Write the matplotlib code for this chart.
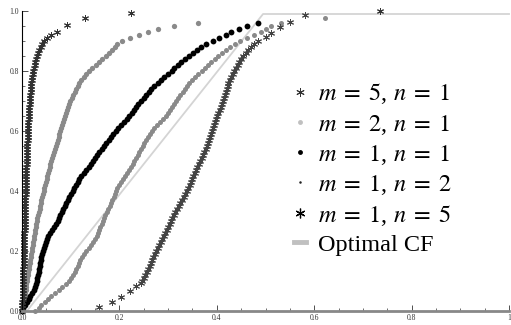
import matplotlib
matplotlib.use("Agg")
import matplotlib.pyplot as plt
from matplotlib.lines import Line2D

plt.rcParams['font.family'] = ['Liberation Serif', 'DejaVu Serif']
plt.rcParams['mathtext.fontset'] = 'stix'

# common CDF levels (y values) for the dense part of each curve
levels = [0.00, 0.01, 0.02, 0.03, 0.04, 0.05, 0.06, 0.07, 0.08, 0.09,
          0.10, 0.11, 0.12, 0.13, 0.14, 0.15, 0.16, 0.17, 0.18, 0.19,
          0.20, 0.21, 0.22, 0.23, 0.24, 0.25, 0.26, 0.27, 0.28, 0.29,
          0.30, 0.31, 0.32, 0.33, 0.34, 0.35, 0.36, 0.37, 0.38, 0.39,
          0.40, 0.41, 0.42, 0.43, 0.44, 0.45, 0.46, 0.47, 0.48, 0.49,
          0.50, 0.51, 0.52, 0.53, 0.54, 0.55, 0.56, 0.57, 0.58, 0.59,
          0.60, 0.61, 0.62, 0.63, 0.64, 0.65, 0.66, 0.67, 0.68, 0.69,
          0.70, 0.71, 0.72, 0.73, 0.74, 0.75, 0.76, 0.77, 0.78, 0.79,
          0.80, 0.81, 0.82, 0.83, 0.84, 0.85, 0.86, 0.87, 0.88, 0.89]

# m = 5, n = 1 (asterisks hugging the y axis)
a_x = [0.001, 0.001, 0.001, 0.001, 0.002, 0.002, 0.002, 0.002, 0.002, 0.003,
       0.003, 0.003, 0.003, 0.003, 0.003, 0.004, 0.004, 0.004, 0.004, 0.004,
       0.004, 0.005, 0.005, 0.005, 0.005, 0.005, 0.005, 0.006, 0.006, 0.006,
       0.006, 0.006, 0.006, 0.007, 0.007, 0.007, 0.007, 0.007, 0.007, 0.008,
       0.008, 0.008, 0.008, 0.008, 0.009, 0.009, 0.009, 0.009, 0.009, 0.010,
       0.010, 0.010, 0.010, 0.011, 0.011, 0.011, 0.011, 0.012, 0.012, 0.012,
       0.012, 0.013, 0.013, 0.013, 0.014, 0.014, 0.014, 0.015, 0.015, 0.016,
       0.016, 0.017, 0.017, 0.018, 0.018, 0.019, 0.019, 0.020, 0.021, 0.022,
       0.023, 0.024, 0.026, 0.027, 0.029, 0.031, 0.033, 0.035, 0.038, 0.042]
a_tail_x = [0.046, 0.052, 0.060, 0.071, 0.092, 0.130, 0.224, 0.735]
a_tail_y = [0.90, 0.91, 0.92, 0.93, 0.953, 0.977, 0.993, 1.0]

# m = 2, n = 1 (gray dots)
b_x = [0.002, 0.003, 0.004, 0.004, 0.005, 0.006, 0.007, 0.008, 0.008, 0.009,
       0.010, 0.011, 0.012, 0.013, 0.014, 0.015, 0.016, 0.017, 0.018, 0.019,
       0.020, 0.021, 0.022, 0.023, 0.024, 0.025, 0.026, 0.027, 0.028, 0.029,
       0.030, 0.031, 0.033, 0.034, 0.036, 0.037, 0.039, 0.040, 0.042, 0.043,
       0.045, 0.046, 0.048, 0.049, 0.051, 0.052, 0.054, 0.055, 0.057, 0.058,
       0.060, 0.062, 0.064, 0.065, 0.067, 0.069, 0.071, 0.073, 0.075, 0.077,
       0.079, 0.081, 0.083, 0.085, 0.087, 0.089, 0.091, 0.093, 0.095, 0.097,
       0.099, 0.102, 0.105, 0.108, 0.111, 0.114, 0.118, 0.122, 0.127, 0.132,
       0.138, 0.144, 0.151, 0.158, 0.165, 0.172, 0.178, 0.184, 0.190, 0.196]
b_tail_x = [0.205, 0.222, 0.240, 0.258, 0.280, 0.312, 0.361]
b_tail_y = [0.90, 0.91, 0.92, 0.93, 0.94, 0.95, 0.96]

# m = 1, n = 1 (black dots)
c_x = [0.000, 0.003, 0.007, 0.010, 0.014, 0.017, 0.021, 0.024, 0.026, 0.028,
       0.030, 0.031, 0.032, 0.034, 0.035, 0.036, 0.037, 0.039, 0.040, 0.041,
       0.043, 0.045, 0.047, 0.049, 0.052, 0.054, 0.057, 0.061, 0.066, 0.070,
       0.074, 0.077, 0.079, 0.082, 0.085, 0.088, 0.091, 0.094, 0.097, 0.100,
       0.104, 0.107, 0.110, 0.114, 0.118, 0.122, 0.127, 0.132, 0.137, 0.141,
       0.146, 0.150, 0.155, 0.159, 0.164, 0.168, 0.173, 0.178, 0.183, 0.187,
       0.192, 0.198, 0.204, 0.209, 0.215, 0.220, 0.225, 0.229, 0.234, 0.239,
       0.245, 0.250, 0.255, 0.260, 0.265, 0.272, 0.279, 0.285, 0.292, 0.299,
       0.307, 0.313, 0.320, 0.327, 0.335, 0.343, 0.351, 0.359, 0.367, 0.378]
c_tail_x = [0.393, 0.405, 0.418, 0.430, 0.446, 0.462, 0.485]
c_tail_y = [0.90, 0.91, 0.92, 0.93, 0.94, 0.95, 0.96]

# m = 1, n = 2 (gray dots, crossing the optimal line)
d_x = [0.027, 0.034, 0.040, 0.047, 0.053, 0.060, 0.068, 0.075, 0.083, 0.090,
       0.096, 0.101, 0.105, 0.108, 0.111, 0.114, 0.117, 0.120, 0.123, 0.127,
       0.132, 0.137, 0.142, 0.146, 0.150, 0.153, 0.156, 0.159, 0.161, 0.164,
       0.166, 0.168, 0.171, 0.174, 0.177, 0.180, 0.183, 0.185, 0.188, 0.190,
       0.193, 0.196, 0.200, 0.204, 0.208, 0.212, 0.216, 0.220, 0.224, 0.227,
       0.231, 0.234, 0.238, 0.241, 0.245, 0.248, 0.251, 0.255, 0.258, 0.262,
       0.266, 0.272, 0.278, 0.284, 0.290, 0.295, 0.299, 0.304, 0.308, 0.312,
       0.316, 0.321, 0.325, 0.330, 0.334, 0.338, 0.343, 0.349, 0.356, 0.362,
       0.369, 0.375, 0.382, 0.389, 0.396, 0.403, 0.410, 0.418, 0.427, 0.437]
d_tail_x = [0.447, 0.462, 0.476, 0.490, 0.500, 0.512, 0.531, 0.622]
d_tail_y = [0.90, 0.91, 0.92, 0.93, 0.94, 0.95, 0.96, 0.977]

# m = 1, n = 5 (asterisks on the right; sparse start, then levels 0.10..0.89)
e_head_x = [0.159, 0.184, 0.204, 0.222, 0.235, 0.244]
e_head_y = [0.013, 0.030, 0.047, 0.067, 0.083, 0.095]
e_x = [0.247, 0.250, 0.253, 0.256, 0.259, 0.262, 0.264, 0.267, 0.270, 0.273,
       0.276, 0.279, 0.282, 0.285, 0.288, 0.291, 0.294, 0.297, 0.300, 0.303,
       0.306, 0.309, 0.312, 0.315, 0.318, 0.322, 0.325, 0.328, 0.332, 0.335,
       0.338, 0.341, 0.344, 0.347, 0.350, 0.352, 0.355, 0.358, 0.360, 0.363,
       0.366, 0.369, 0.371, 0.374, 0.377, 0.379, 0.382, 0.384, 0.387, 0.389,
       0.391, 0.393, 0.395, 0.397, 0.399, 0.401, 0.403, 0.406, 0.408, 0.410,
       0.412, 0.414, 0.416, 0.418, 0.420, 0.422, 0.424, 0.427, 0.430, 0.433,
       0.436, 0.439, 0.443, 0.446, 0.450, 0.454, 0.459, 0.464, 0.470, 0.477]
e_tail_x = [0.485, 0.500, 0.512, 0.530, 0.551, 0.582]
e_tail_y = [0.90, 0.913, 0.927, 0.945, 0.963, 0.987]

# optimal CF
opt_x = [0.01, 0.495, 1.0]
opt_y = [0.0, 0.99, 0.99]

labels = [r'$m\;=\;5$, $n\;=\;1$', r'$m\;=\;2$, $n\;=\;1$', r'$m\;=\;1$, $n\;=\;1$',
          r'$m\;=\;1$, $n\;=\;2$', r'$m\;=\;1$, $n\;=\;5$', 'Optimal CF']

fig = plt.figure(figsize=(5.11, 3.25), dpi=100)
ax = fig.add_axes([22 / 511, 14 / 325, 487 / 511, 300 / 325])

star = (6, 2, 0)
ax.plot(opt_x, opt_y, color='#d4d4d4', lw=1.3, zorder=1, clip_on=False)
ax.plot(b_x + b_tail_x, levels + b_tail_y, ls='none', marker='o', ms=3.8,
        color='#8a8a8a', mec='none', clip_on=False)
ax.plot(d_x + d_tail_x, levels + d_tail_y, ls='none', marker='o', ms=3.6,
        color='#8a8a8a', mec='none', clip_on=False)
ax.plot(c_x + c_tail_x, levels + c_tail_y, ls='none', marker='o', ms=4.2,
        color='black', mec='none', clip_on=False)
ax.plot(a_x + a_tail_x, levels + a_tail_y, ls='none', marker=star, ms=5,
        mew=0.7, color='#333333', clip_on=False)
ax.plot(e_head_x + e_x + e_tail_x, e_head_y + levels[10:] + e_tail_y, ls='none',
        marker=star, ms=5, mew=0.7, color='#444444', clip_on=False)

ax.set_xlim(0, 1)
ax.set_ylim(0, 1)
ax.set_xticks([0, 0.2, 0.4, 0.6, 0.8, 1.0])
ax.set_xticklabels(['0.0', '0.2', '0.4', '0.6', '0.8', '1'])
ax.set_yticks([0, 0.2, 0.4, 0.6, 0.8, 1.0])
ax.set_yticklabels(['0.0', '0.2', '0.4', '0.6', '0.8', '1.0'])
ax.set_xticks([i * 0.05 for i in range(21)], minor=True)
ax.set_yticks([i * 0.05 for i in range(21)], minor=True)
ax.tick_params(which='both', direction='in', labelsize=5.5, pad=2, colors='#333333')
ax.tick_params(which='major', length=4, width=0.6)
ax.tick_params(which='minor', length=2, width=0.5)
ax.spines['top'].set_visible(False)
ax.spines['right'].set_visible(False)
ax.spines['bottom'].set_color('#888888')
ax.spines['bottom'].set_linewidth(2)
ax.spines['left'].set_linewidth(0.8)

handles = [
    Line2D([], [], ls='none', marker=star, ms=6, mew=0.7, color='#333333'),
    Line2D([], [], ls='none', marker='o', ms=3.5, color='#c0c0c0', mec='none'),
    Line2D([], [], ls='none', marker='o', ms=3.5, color='black', mec='none'),
    Line2D([], [], ls='none', marker='o', ms=1.8, color='#222222', mec='none'),
    Line2D([], [], ls='none', marker=star, ms=7, mew=0.9, color='black'),
    Line2D([], [], color='#c0c0c0', lw=3.5),
]
ax.legend(handles, labels, loc='upper left', bbox_to_anchor=(0.558, 0.765),
          frameon=False, fontsize=17.5, handlelength=0.5, handletextpad=0.5,
          labelspacing=0.25, borderpad=0, borderaxespad=0)

fig.savefig('out.png', dpi=100)
